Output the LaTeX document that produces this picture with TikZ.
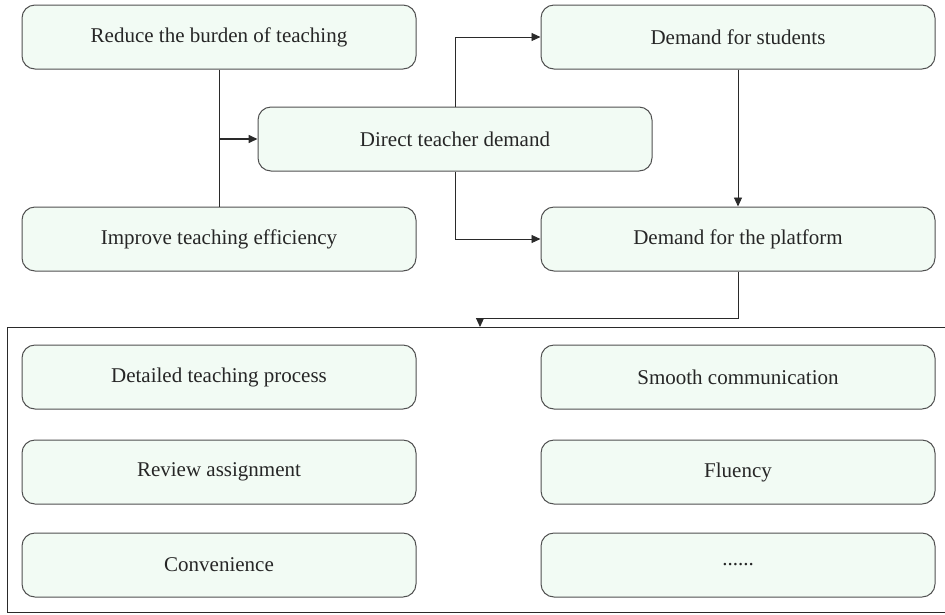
\documentclass[tikz,border=0pt]{standalone}
\usepackage{fontspec}
\setmainfont{Liberation Serif}
\usetikzlibrary{arrows.meta}
\definecolor{boxfill}{HTML}{F2FBF4}
\definecolor{boxline}{HTML}{505050}
\definecolor{wire}{HTML}{2A2A2A}
\begin{document}
\begin{tikzpicture}[x=1pt,y=-1pt,
  item/.style={draw=boxline, line width=1pt, fill=boxfill, rounded corners=13pt,
    minimum width=394pt, minimum height=64pt, inner sep=0pt,
    font=\fontsize{21}{24}\selectfont, text=black!85},
  link/.style={draw=wire, line width=0.9pt, -{Triangle[length=9pt,width=8pt]}},
  plain/.style={draw=wire, line width=0.9pt}]
\useasboundingbox (0,0) rectangle (945,614);

% upper part
\node[item] (reduce)   at (219,37)  {Reduce the burden of teaching};
\node[item] (improve)  at (219,239) {Improve teaching efficiency};
\node[item] (direct)   at (455,139) {Direct teacher demand};
\node[item] (students) at (738,37)  {Demand for students};
\node[item] (platform) at (738,239) {Demand for the platform};

% frame holding the platform requirements
\coordinate (frameNW) at (7,327);
\coordinate (frameSE) at (960,612);
\draw[draw=wire, line width=1pt] (frameNW) rectangle (frameSE);

\node[item] (detail)  at (219,377) {Detailed teaching process};
\node[item] (review)  at (219,472) {Review assignment};
\node[item] (conv)    at (219,565) {Convenience};
\node[item] (smooth)  at (738,377) {Smooth communication};
\node[item] (fluency) at (738,472) {Fluency};
\node[item] (more)    at (738,565) {......};

% connectors
\draw[plain] (reduce.south) -- (improve.north);
\coordinate (join) at (219,139);
\draw[link, line width=1.6pt] (join) -- (direct.west);
\draw[link] (direct.north) |- (students.west);
\draw[link] (direct.south) |- (platform.west);
\draw[link] (students.south) -- (platform.north);
\coordinate (bend) at (738,318);
\coordinate (drop) at (480,318);
\coordinate (entry) at (480,327);
\draw[link] (platform.south) -- (bend) -- (drop) -- (entry);
\end{tikzpicture}
\end{document}
